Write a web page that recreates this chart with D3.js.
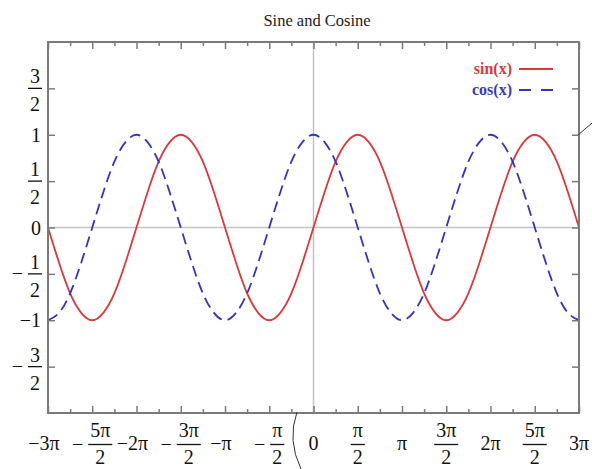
<!DOCTYPE html>
<html>
<head>
<meta charset="utf-8">
<script src="https://cdn.jsdelivr.net/npm/d3@7"></script>
<style>
html,body{margin:0;padding:0;background:#fff;}
svg{display:block;font-family:"Liberation Serif","DejaVu Serif",serif;}
</style>
</head>
<body>
<svg id="chart" width="592" height="469"></svg>
<script>
// ---- data (x in multiples of pi, step pi/8) ----
const xPi = [-3,-2.875,-2.75,-2.625,-2.5,-2.375,-2.25,-2.125,-2,-1.875,-1.75,-1.625,-1.5,-1.375,-1.25,-1.125,
  -1,-0.875,-0.75,-0.625,-0.5,-0.375,-0.25,-0.125,0,0.125,0.25,0.375,0.5,0.625,0.75,0.875,
  1,1.125,1.25,1.375,1.5,1.625,1.75,1.875,2,2.125,2.25,2.375,2.5,2.625,2.75,2.875,3];
const sinValues = [0,-0.38,-0.71,-0.92,-1,-0.92,-0.71,-0.38,0,0.38,0.71,0.92,1,0.92,0.71,0.38,
  0,-0.38,-0.71,-0.92,-1,-0.92,-0.71,-0.38,0,0.38,0.71,0.92,1,0.92,0.71,0.38,
  0,-0.38,-0.71,-0.92,-1,-0.92,-0.71,-0.38,0,0.38,0.71,0.92,1,0.92,0.71,0.38,0];
const cosValues = [-1,-0.92,-0.71,-0.38,0,0.38,0.71,0.92,1,0.92,0.71,0.38,0,-0.38,-0.71,-0.92,
  -1,-0.92,-0.71,-0.38,0,0.38,0.71,0.92,1,0.92,0.71,0.38,0,-0.38,-0.71,-0.92,
  -1,-0.92,-0.71,-0.38,0,0.38,0.71,0.92,1,0.92,0.71,0.38,0,-0.38,-0.71,-0.92,-1];
const seriesNames = ["sin(x)","cos(x)"];
const xTickValues = [-3,-2.5,-2,-1.5,-1,-0.5,0,0.5,1,1.5,2,2.5,3];
const xTickLabels = ["−3π","−5π/2","−2π","−3π/2","−π","−π/2","0","π/2","π","3π/2","2π","5π/2","3π"];
const xMinorTicks = [-2.75,-2.25,-1.75,-1.25,-0.75,-0.25,0.25,0.75,1.25,1.75,2.25,2.75];
const yTickValues = [-1.5,-1,-0.5,0,0.5,1,1.5];
const yTickLabels = ["−3/2","−1","−1/2","0","1/2","1","3/2"];
const titleText = "Sine and Cosine";

// ---- layout ----
const L = 48, R = 579, T = 42, B = 413;
const svg = d3.select("#chart");
const x = d3.scaleLinear().domain([-3,3]).range([L,R]);
const y = d3.scaleLinear().domain([-2,2]).range([B,T]);
const borderColor = "#7a7a7a";
const red = "#e0363a", blue = "#3333c6";

svg.append("defs").append("clipPath").attr("id","plotclip")
  .append("rect").attr("x",L).attr("y",T).attr("width",R-L).attr("height",B-T);

// zero lines
svg.append("line").attr("x1",x(0)).attr("x2",x(0)).attr("y1",T).attr("y2",B)
  .attr("stroke","#c4c4c4").attr("stroke-width",1.5);
svg.append("line").attr("x1",L).attr("x2",R).attr("y1",y(0)).attr("y2",y(0))
  .attr("stroke","#c4c4c4").attr("stroke-width",1.5);

// curves
const gCurves = svg.append("g").attr("clip-path","url(#plotclip)");
const line = d3.line().x((d,i)=>x(xPi[i])).y(d=>y(d)).curve(d3.curveNatural);
gCurves.append("path").datum(sinValues).attr("d",line)
  .attr("fill","none").attr("stroke",red).attr("stroke-width",1.8);
gCurves.append("path").datum(cosValues).attr("d",line)
  .attr("fill","none").attr("stroke",blue).attr("stroke-width",1.8)
  .attr("stroke-dasharray","11,6");

// axes (ticks only, pointing inward)
function styleAxis(g){
  g.select(".domain").remove();
  g.selectAll(".tick line").attr("stroke",borderColor).attr("stroke-width",1.5);
  g.selectAll(".tick text").remove();
}
svg.append("g").attr("transform",`translate(0,${B})`)
  .call(d3.axisBottom(x).tickValues(xTickValues).tickSize(-7).tickFormat("")).call(styleAxis);
svg.append("g").attr("transform",`translate(0,${B})`)
  .call(d3.axisBottom(x).tickValues(xMinorTicks).tickSize(-4).tickFormat("")).call(styleAxis);
svg.append("g").attr("transform",`translate(0,${T})`)
  .call(d3.axisTop(x).tickValues(xTickValues).tickSize(-7).tickFormat("")).call(styleAxis);
svg.append("g").attr("transform",`translate(0,${T})`)
  .call(d3.axisTop(x).tickValues(xMinorTicks).tickSize(-4).tickFormat("")).call(styleAxis);
svg.append("g").attr("transform",`translate(${L},0)`)
  .call(d3.axisLeft(y).tickValues(yTickValues).tickSize(-7).tickFormat("")).call(styleAxis);
svg.append("g").attr("transform",`translate(${R},0)`)
  .call(d3.axisRight(y).tickValues(yTickValues).tickSize(-7).tickFormat("")).call(styleAxis);

// border
svg.append("rect").attr("x",L).attr("y",T).attr("width",R-L).attr("height",B-T)
  .attr("fill","none").attr("stroke",borderColor).attr("stroke-width",2);

// label helpers
const fs = 20;
function parseLabel(s){
  let sign = "";
  if (s[0]==="−"){ sign="−"; s=s.slice(1); }
  const parts = s.split("/");
  return {sign, num:parts[0], den:parts[1]};
}
function drawLabel(g, s, anchorMode, numDy, denDy){
  const p = parseLabel(s);
  if (p.den===undefined){
    g.append("text").attr("text-anchor", anchorMode==="x" ? "middle" : "end")
      .attr("x", 0).attr("y", anchorMode==="x" ? 8 : 7)
      .attr("font-size",fs).attr("fill","#111").text(p.sign+p.num);
    return;
  }
  const num = g.append("text").attr("text-anchor","middle").attr("y",numDy)
    .attr("font-size",fs).attr("fill","#111").text(p.num);
  g.append("text").attr("text-anchor","middle").attr("y",denDy)
    .attr("font-size",fs).attr("fill","#111").text(p.den);
  const w = num.node().getComputedTextLength();
  const bw = Math.max(w+4, 14);
  g.append("line").attr("x1",-bw/2).attr("x2",bw/2).attr("y1",0).attr("y2",0)
    .attr("stroke","#111").attr("stroke-width",1.3);
  if (p.sign){
    g.append("text").attr("text-anchor","end").attr("x",-bw/2-5).attr("y",6)
      .attr("font-size",fs).attr("fill","#111").text(p.sign);
  }
  return bw;
}

// y labels
yTickValues.forEach((v,i)=>{
  const s = yTickLabels[i];
  const p = parseLabel(s);
  if (p.den===undefined){
    const g = svg.append("g").attr("transform",`translate(41,${y(v)})`);
    drawLabel(g, s, "y", 0, 0);
  } else {
    const g = svg.append("g").attr("transform",`translate(35,${y(v)})`);
    drawLabel(g, s, "y", -5, 23);
  }
});

// x labels
xTickValues.forEach((v,i)=>{
  const s = xTickLabels[i];
  const p = parseLabel(s);
  const g = svg.append("g");
  if (p.den===undefined){
    g.attr("transform",`translate(${x(v) - (p.sign?4:0)},442)`);
    drawLabel(g, s, "x", 0, 0);
  } else {
    const shift = p.sign ? 8 : 0;
    g.attr("transform",`translate(${x(v)+shift},444.5)`);
    drawLabel(g, s, "x", -8, 19);
  }
});

// title
svg.append("text").attr("x",317).attr("y",26).attr("text-anchor","middle")
  .attr("font-size",16.5).attr("fill","#222").text(titleText);

// legend
const legendColors = [red, blue];
const legendText = ["#d8383c", "#3a3ab8"];
seriesNames.forEach((n,i)=>{
  const cy = 69 + i*21;
  svg.append("text").attr("x",512).attr("y",cy+5).attr("text-anchor","end")
    .attr("font-size",16).attr("font-weight","bold").attr("fill",legendText[i]).text(n);
  svg.append("line").attr("x1",519).attr("x2",553).attr("y1",cy).attr("y2",cy)
    .attr("stroke",legendColors[i]).attr("stroke-width",1.8)
    .attr("stroke-dasharray", i===1 ? "12,10" : null);
});

// stray marks at the picture edges (outside the chart)
svg.append("path").attr("d","M297,412 Q287,440 301,469")
  .attr("fill","none").attr("stroke","#333").attr("stroke-width",1);
svg.append("path").attr("d","M578,135 L592,123")
  .attr("fill","none").attr("stroke","#333").attr("stroke-width",1);
</script>
</body>
</html>
